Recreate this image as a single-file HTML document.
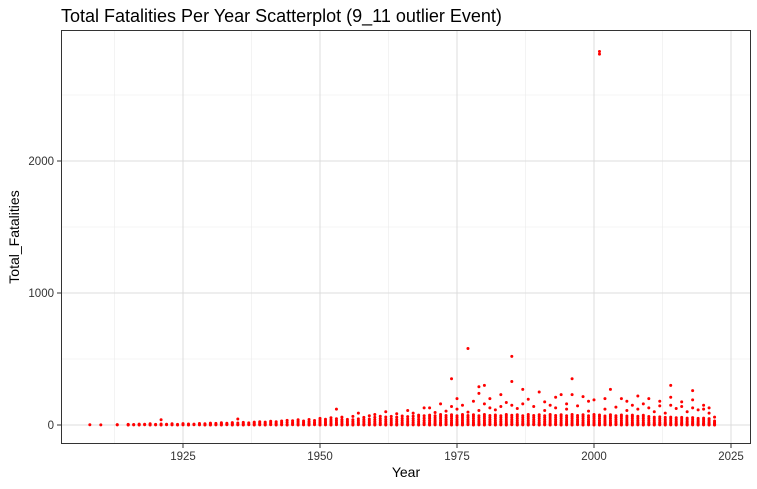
<!DOCTYPE html>
<html><head><meta charset="utf-8"><style>
body{margin:0;background:#fff;font-family:"Liberation Sans",sans-serif}
svg{display:block}
</style></head><body>
<svg id="chart" width="757" height="489">
<text x="61" y="22" font-size="18" fill="#000">Total Fatalities Per Year Scatterplot (9_11 outlier Event)</text>
<g id="grid"></g><g id="pts"></g><g id="axes"></g>
<text x="406" y="477" font-size="14" text-anchor="middle">Year</text>
<text transform="translate(19,237) rotate(-90)" font-size="14" text-anchor="middle">Total_Fatalities</text>
</svg>
<script>
const xTicks=[1925,1950,1975,2000,2025];
const yTicks=[0,1000,2000];
const years=[1908,1910,1913,1915,1916,1917,1918,1919,1920,1921,1922,1923,1924,1925,1926,1927,1928,1929,1930,1931,1932,1933,1934,1935,1936,1937,1938,1939,1940,1941,1942,1943,1944,1945,1946,1947,1948,1949,1950,1951,1952,1953,1954,1955,1956,1957,1958,1959,1960,1961,1962,1963,1964,1965,1966,1967,1968,1969,1970,1971,1972,1973,1974,1975,1976,1977,1978,1979,1980,1981,1982,1983,1984,1985,1986,1987,1988,1989,1990,1991,1992,1993,1994,1995,1996,1997,1998,1999,2000,2001,2002,2003,2004,2005,2006,2007,2008,2009,2010,2011,2012,2013,2014,2015,2016,2017,2018,2019,2020,2021,2022,2023];
const fatalities=[
[2],[1],[3,1],[0,2,5],[1,4],[0,3,7],[2,6],[0,4,9],[1,5],[0,3,40,8],[2,6],[1,4,9],[0,5],[1,6,10],[0,3,8],[2,7],[1,5,11],[0,4,9],
[0,3,9,14],[1,6,12],[0,4,10,17],[2,7,13],[0,5,11,18],[1,6,45,15],[0,4,12,20],[2,8,16],[0,5,13,22],[1,7,15,25],
[0,5,12,22],[2,8,17,28],[0,6,14,25],[1,7,18,30],[0,5,20,35],[2,9,19,32],[0,6,15,27,40],[1,8,18,30],[0,5,14,26,42],[2,9,20,34],
[0,6,14,24,36,50],[1,8,18,30,44],[0,5,13,25,38,55],[2,9,20,33,47,120],[0,6,15,27,41,60],[1,7,17,29,43],[0,5,14,26,40,65],[2,9,19,32,46,90],[0,6,16,28,42,58],[1,8,18,31,45,70],
[0,5,13,25,40,58,80],[2,9,19,33,48,66],[0,6,15,28,43,61,100],[1,8,18,31,46,65],[0,5,14,27,42,60,85],[2,9,20,34,50,68],[0,6,16,29,45,63,110],[1,7,18,32,48,67,90],[0,5,15,28,44,62,75],[2,9,20,35,52,70,130],
[0,4,10,20,33,48,62,75,130],[1,6,14,25,38,54,70,95],[0,5,12,22,36,52,66,80,160],[2,7,16,27,41,57,72,105],[0,4,11,21,34,50,65,78,350,140],[1,6,15,26,40,56,70,120,200],[0,5,13,23,37,53,68,80,150],[2,7,16,28,42,58,72,98,580],[0,4,11,22,35,51,66,78,180],[1,6,14,25,39,55,70,110,290,240],
[0,5,12,23,36,52,66,80,300,160],[2,7,16,27,41,57,72,130,200],[0,4,11,21,34,50,65,76,115],[1,6,15,26,40,56,70,140,230],[0,5,13,24,38,54,68,80,170],[2,7,17,29,43,59,74,150,520,330],[0,4,12,22,35,51,66,78,125],[1,6,14,25,39,55,70,160,270],[0,5,12,23,36,52,66,80,195],[2,7,16,28,42,58,72,140],
[0,4,11,21,34,50,65,78,250],[1,6,15,26,40,56,70,110,175],[0,5,13,24,37,53,68,80,150],[2,7,16,27,41,57,72,130,210],[0,4,11,22,35,51,66,78,230],[1,6,14,25,39,55,70,120,160],[0,5,12,23,36,52,66,80,350,230],[2,7,16,28,42,58,72,145],[0,4,11,21,34,50,65,78,215],[1,6,15,26,40,56,70,105,180],
[0,5,12,23,36,52,66,80,190],[0,4,10,20,33,49,64,76,2830,2810],[1,6,14,25,38,54,68,120,200],[0,5,12,22,35,51,65,78,270],[2,7,15,26,40,56,70,135],[0,4,11,21,34,50,64,76,200],[1,6,14,24,38,54,68,110,180],[0,5,12,22,35,50,63,75,150],[1,6,13,23,36,52,66,120,220],[0,4,11,20,33,48,62,74,160],[1,5,12,22,35,50,64,130,200],
[0,4,10,19,31,46,60,100],[1,5,12,21,34,48,62,145,180],[0,4,10,18,30,44,58,90],[1,5,11,20,32,47,60,150,300,210],[0,4,9,17,28,42,55,125],[1,5,11,19,31,45,58,140,175],[0,3,8,16,26,40,52,100],[1,4,10,18,29,43,56,130,260,190],[0,3,8,15,25,38,50,115],[1,4,9,16,27,40,52,120,150],[0,3,7,14,23,36,48,90,130],[0,2,6,12,20,30,60]
];
const NS="http://www.w3.org/2000/svg";
const L=61,R=751,T=30,B=444;
const x=v=>183+(v-1925)*5.48;
const y=v=>425-v*0.132;
const grid=document.getElementById('grid'),axes=document.getElementById('axes'),pts=document.getElementById('pts');
function mk(tag,attrs,parent){const e=document.createElementNS(NS,tag);for(const k in attrs)e.setAttribute(k,attrs[k]);parent.appendChild(e);return e;}
[1912.5,1937.5,1962.5,1987.5,2012.5].forEach(m=>{const g=mk('line',{x1:x(m),x2:x(m),y1:T,y2:B,stroke:'#ebebeb','stroke-width':0.6},grid);});
[500,1500,2500].forEach(v=>{const g=mk('line',{x1:L,x2:R,y1:y(v),y2:y(v),stroke:'#ebebeb','stroke-width':0.6},grid);});
xTicks.forEach(v=>{const g=mk('line',{x1:x(v),x2:x(v),y1:T,y2:B,stroke:'#dcdcdc','stroke-width':1},grid);
mk('line',{x1:x(v),x2:x(v),y1:B,y2:B+4,stroke:'#333'},axes);
const l=mk('text',{x:x(v),y:B+16,'font-size':11.5,'text-anchor':'middle',fill:'#333'},axes);l.textContent=v;});
yTicks.forEach(v=>{const g=mk('line',{x1:L,x2:R,y1:y(v),y2:y(v),stroke:'#dcdcdc','stroke-width':1},grid);
mk('line',{x1:L-4,x2:L,y1:y(v),y2:y(v),stroke:'#333'},axes);
const l=mk('text',{x:L-7,y:y(v)+4,'font-size':11.5,'text-anchor':'end',fill:'#333'},axes);l.textContent=v;});
const fr=mk('rect',{x:L+0.5,y:T+0.5,width:R-L-1,height:B-T-1,fill:'none',stroke:'#333','stroke-width':1},axes);


years.forEach((yr,i)=>{(fatalities[i]||[]).forEach(v=>{const c=mk('circle',{cx:x(yr),cy:y(v),r:1.5,fill:'#ff0000'},pts);

});});
</script>
</body></html>
